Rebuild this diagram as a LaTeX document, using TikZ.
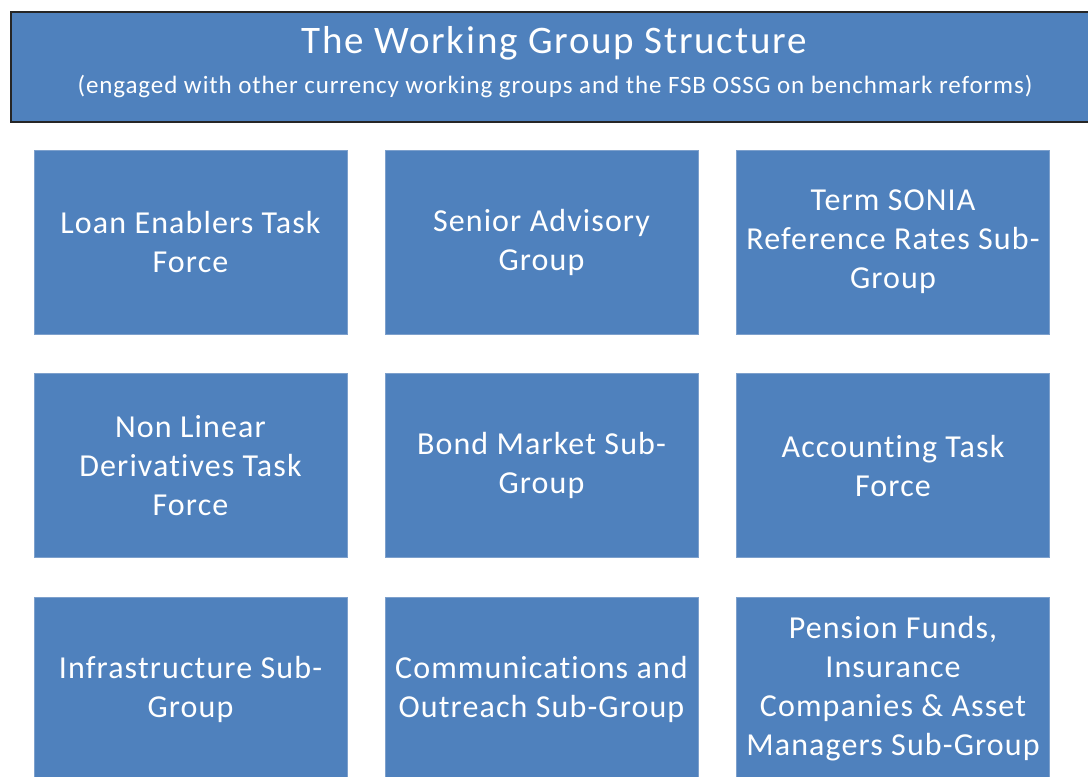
\documentclass[tikz,border=0pt]{standalone}
\usepackage{fontspec}
\setmainfont{Carlito}
\newfontfamily\boxfont[LetterSpace=3.5,Ligatures={NoCommon}]{Carlito}
\newfontfamily\ttlfont[LetterSpace=4.5,Ligatures={NoCommon}]{Carlito}
\newfontfamily\subfont[LetterSpace=3.6,Ligatures={NoCommon}]{Carlito}
\definecolor{boxblue}{HTML}{4F81BD}
\definecolor{boxedge}{HTML}{7DA0CC}
\begin{document}
\begin{tikzpicture}[x=1pt,y=-1pt,
  wg/.style={draw=boxedge, line width=1pt, fill=boxblue, minimum width=313pt,
    minimum height=184pt, inner sep=0pt, text=white, align=center,
    font=\boxfont\fontsize{32}{39}\selectfont},
  hdr/.style={draw=black!85, line width=1.5pt, fill=boxblue, minimum width=1090pt,
    minimum height=110pt, inner sep=0pt, anchor=north west},
  ttl/.style={text=white, inner sep=0pt, font=\ttlfont\fontsize{39}{44}\selectfont},
  sub/.style={text=white, inner sep=0pt, font=\subfont\fontsize{25}{30}\selectfont}]
\useasboundingbox (0,0) rectangle (1088,777);
\clip (0,0) rectangle (1088,777);
\node[hdr] (header) at (10,11) {};
\node[ttl] (title) at (554,43) {The Working Group Structure};
\node[sub] (subtitle) at (555,87) {(engaged with other currency working groups and the FSB OSSG on benchmark reforms)};
% row 1
\node[wg] (loan) at (190.5,242) {Loan Enablers Task\\Force};
\node[wg] (senior) at (541.5,242) {Senior Advisory\\Group};
\node[wg] (term) at (893,242) {Term SONIA\\Reference Rates Sub-\\Group};
% row 2
\node[wg] (nonlin) at (190.5,465.5) {Non Linear\\Derivatives Task\\Force};
\node[wg] (bond) at (541.5,465.5) {Bond Market Sub-\\Group};
\node[wg] (acct) at (893,465.5) {Accounting Task\\Force};
% row 3
\node[wg] (infra) at (190.5,689) {Infrastructure Sub-\\Group};
\node[wg] (comms) at (541.5,689) {Communications and\\Outreach Sub-Group};
\node[wg] (pension) at (893,689) {Pension Funds,\\Insurance\\Companies \& Asset\\Managers Sub-Group};
\end{tikzpicture}
\end{document}
